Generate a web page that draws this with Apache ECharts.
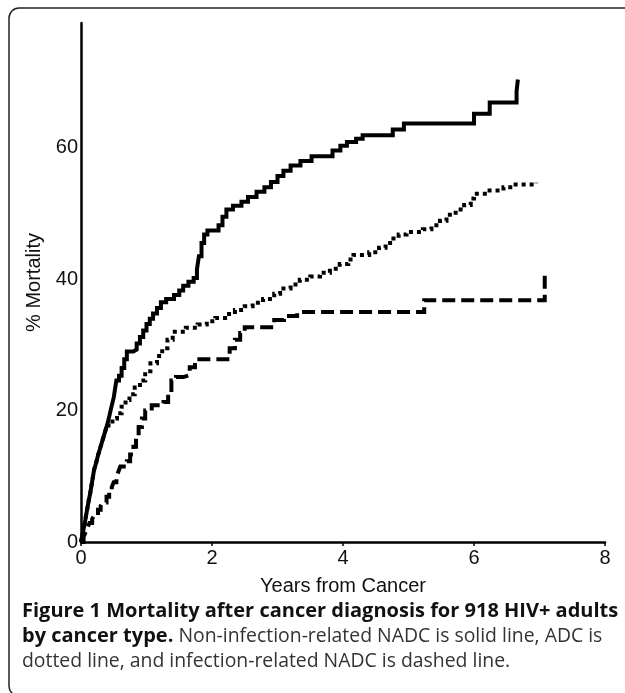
<!DOCTYPE html>
<html>
<head>
<meta charset="utf-8">
<title>Mortality after cancer diagnosis</title>
<script src="https://cdn.jsdelivr.net/npm/echarts@6/dist/echarts.min.js"></script>
<style>
  html, body { margin: 0; padding: 0; background: #fff; }
  #chart { width: 625px; height: 693px; }
</style>
</head>
<body>
<div id="chart"></div>
<script>
// Kaplan-Meier style step curves, [years, % mortality]
const xTicks = [0, 2, 4, 6, 8]
const yTicks = [0, 20, 40, 60]

const nadcNonInfection = [
  [0, 0], [0.02, 1], [0.04, 2], [0.06, 3], [0.08, 4.2], [0.1, 5.3], [0.12, 6.4],
  [0.14, 7.4], [0.16, 8.6], [0.18, 9.8], [0.2, 11], [0.23, 12], [0.26, 13.2],
  [0.29, 14.2], [0.32, 15.2], [0.35, 16.2], [0.38, 17.2], [0.41, 18.2], [0.44, 19.5],
  [0.47, 20.8], [0.5, 22], [0.52, 23.3], [0.54, 24.6], [0.58, 25.3], [0.62, 26.5],
  [0.66, 27.8], [0.7, 29], [0.8, 29.3], [0.85, 30.2], [0.9, 31.2], [0.95, 32.2],
  [1.0, 33.2], [1.05, 34], [1.1, 34.8], [1.16, 35.6], [1.22, 36.5], [1.3, 37],
  [1.42, 37.6], [1.5, 38.3], [1.56, 39], [1.64, 39.6], [1.72, 40.2], [1.77, 41.5],
  [1.8, 43.5], [1.84, 45.5], [1.88, 46.8], [1.93, 47.4], [2.1, 48.2], [2.16, 49.5],
  [2.22, 50.6], [2.32, 51.2], [2.45, 51.8], [2.55, 52.5], [2.68, 53.3], [2.8, 54],
  [2.9, 54.8], [3.0, 55.7], [3.09, 56.5], [3.2, 57.3], [3.35, 58], [3.52, 58.7],
  [3.84, 59.6], [3.96, 60.3], [4.06, 60.9], [4.2, 61.4], [4.3, 61.9], [4.76, 62.8],
  [4.93, 63.7], [6.0, 65.2], [6.24, 66.9], [6.65, 68.6], [6.67, 70.4]
]

const adc = [
  [0, 0], [0.02, 1], [0.04, 2], [0.06, 3], [0.08, 4.2], [0.1, 5.3], [0.12, 6.4],
  [0.14, 7.4], [0.16, 8.6], [0.18, 9.8], [0.2, 11], [0.23, 12], [0.26, 13.2],
  [0.29, 14.2], [0.32, 15.2], [0.35, 16.2], [0.38, 17.2], [0.42, 18], [0.48, 18.8],
  [0.55, 19.6], [0.62, 20.6], [0.68, 21.6], [0.74, 22.5], [0.82, 23.5], [0.9, 24.6],
  [0.98, 26], [1.06, 27.2], [1.16, 28.3], [1.24, 29.5], [1.32, 30.8], [1.4, 32],
  [1.6, 32.6], [1.78, 33.1], [1.92, 33.6], [2.05, 34.1], [2.2, 34.7], [2.35, 35.3],
  [2.5, 35.9], [2.62, 36.4], [2.78, 37], [2.95, 37.8], [3.04, 38.6], [3.2, 39.2],
  [3.34, 39.9], [3.5, 40.4], [3.65, 41], [3.8, 41.6], [3.95, 42.3], [4.08, 43],
  [4.16, 43.7], [4.4, 44.1], [4.55, 44.8], [4.65, 45.5], [4.77, 46.2], [4.85, 46.8],
  [4.97, 47.2], [5.22, 47.6], [5.35, 48.2], [5.48, 48.9], [5.58, 49.8], [5.72, 50.6],
  [5.85, 51.3], [5.95, 52.3], [6.0, 53], [6.2, 53.5], [6.45, 54], [6.6, 54.4], [6.95, 54.7]
]

const nadcInfection = [
  [0, 0], [0.04, 0.8], [0.07, 1.5], [0.1, 2.2], [0.13, 2.9], [0.17, 3.5], [0.2, 4],
  [0.26, 4.9], [0.3, 5.5], [0.33, 6], [0.39, 6.9], [0.43, 7.6], [0.47, 8.4],
  [0.5, 9.1], [0.54, 9.9], [0.57, 10.7], [0.6, 11.5], [0.7, 12.3], [0.75, 13.3],
  [0.8, 14.5], [0.84, 16], [0.88, 17.5], [0.93, 18.8], [0.98, 20], [1.08, 20.8],
  [1.26, 21.3], [1.33, 22.8], [1.38, 24.6], [1.45, 25.1], [1.56, 25.4], [1.66, 26.6],
  [1.74, 27.8], [2.27, 29.5], [2.35, 30.8], [2.43, 31.8], [2.5, 32.7], [2.95, 33.8],
  [3.1, 34.4], [3.3, 35], [5.24, 36.8], [7.08, 40.8]
]

const axisFont = '"Liberation Sans", Arial, sans-serif'
const captionFont = '"Open Sans", sans-serif'

const chart = echarts.init(document.getElementById('chart'))

const stepSeries = (name, data, type) => ({
  name,
  type: 'line',
  step: 'end',
  data,
  symbol: 'none',
  lineStyle: { color: '#000', width: 4, type, cap: 'butt', join: 'miter' },
})

chart.setOption({
  animation: false,
  grid: { left: 81, right: 20, top: 23, bottom: 151 },
  xAxis: {
    type: 'value',
    min: xTicks[0],
    max: xTicks[xTicks.length - 1],
    interval: 2,
    name: 'Years from Cancer',
    nameLocation: 'middle',
    nameGap: 34,
    nameTextStyle: { fontFamily: axisFont, fontSize: 20, color: '#111' },
    axisLine: { lineStyle: { color: '#000', width: 2.5 } },
    axisTick: { show: true, length: 4, lineStyle: { color: '#000', width: 1.5 } },
    splitLine: { show: false },
    axisLabel: { fontFamily: axisFont, fontSize: 20, color: '#111', margin: 6 },
  },
  yAxis: {
    type: 'value',
    min: yTicks[0],
    max: 79,
    interval: 20,
    name: '% Mortality',
    nameLocation: 'middle',
    nameGap: 36,
    nameRotate: 90,
    nameTextStyle: { fontFamily: axisFont, fontSize: 20, color: '#111' },
    axisLine: { show: true, lineStyle: { color: '#000', width: 2.5 } },
    axisTick: { show: false },
    splitLine: { show: false },
    axisLabel: { fontFamily: axisFont, fontSize: 20, color: '#111', margin: 3, showMaxLabel: false },
  },
  series: [
    stepSeries('Infection-related NADC', nadcInfection, [13, 6]),
    stepSeries('ADC', adc, [4, 4]),
    stepSeries('Non-infection-related NADC', nadcNonInfection, 'solid'),
  ],
  graphic: [
    {
      type: 'rect',
      shape: { x: 9, y: 8, width: 640, height: 688, r: 10 },
      style: { fill: 'none', stroke: '#222', lineWidth: 1.5 },
      silent: true,
    },
    {
      type: 'text',
      left: 22,
      top: 601,
      style: {
        text: '{b|Figure 1 Mortality after cancer diagnosis for 918 HIV+ adults}\n' +
          '{b|by cancer type.}{n| Non-infection-related NADC is solid line, ADC is}\n' +
          '{n|dotted line, and infection-related NADC is dashed line.}',
        rich: {
          b: { fontFamily: captionFont, fontWeight: 'bold', fontSize: 20, lineHeight: 25, fill: '#111' },
          n: { fontFamily: captionFont, fontSize: 19.4, lineHeight: 25, fill: '#333' },
        },
      },
    },
  ],
})
</script>
</body>
</html>
